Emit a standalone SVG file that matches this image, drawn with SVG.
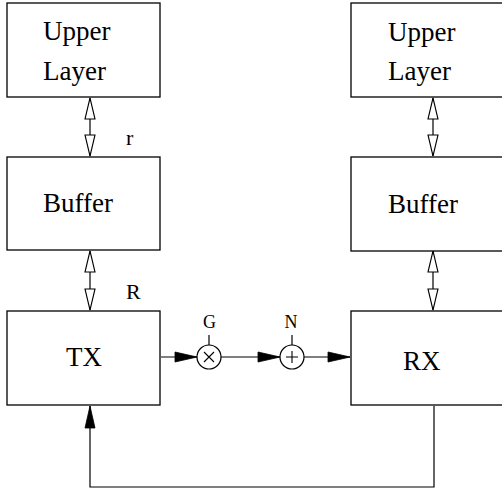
<svg xmlns="http://www.w3.org/2000/svg" width="502" height="489" viewBox="0 0 502 489">
<style>
.box{fill:#fff;stroke:#000;stroke-width:1.3}
text{font-family:'Liberation Serif','Times New Roman','DejaVu Serif',serif;fill:#000}
.big{font-size:27px}
.lbl{font-size:22px}
.sm{font-size:18px}
.ln{fill:none;stroke:#000;stroke-width:1.2}
</style>
<defs>
<marker id="hollow" markerUnits="userSpaceOnUse" viewBox="-23 -7 25 14" markerWidth="25" markerHeight="14" refX="0" refY="0" orient="auto-start-reverse" overflow="visible">
<path d="M0,0 L-21,-5 L-21,5 Z" fill="#fff" stroke="#000" stroke-width="1.1"/>
</marker>
<marker id="solid" markerUnits="userSpaceOnUse" viewBox="-23 -7 25 14" markerWidth="25" markerHeight="14" refX="0" refY="0" orient="auto" overflow="visible">
<path d="M0,0 L-22,-5 L-22,5 Z" fill="#000" stroke="#000" stroke-width="0.8"/>
</marker>
</defs>
<g id="connectors">
<line class="ln" x1="90" y1="98" x2="90" y2="156" marker-start="url(#hollow)" marker-end="url(#hollow)"/>
<line class="ln" x1="90" y1="251" x2="90" y2="310" marker-start="url(#hollow)" marker-end="url(#hollow)"/>
<line class="ln" x1="433" y1="98" x2="433" y2="156" marker-start="url(#hollow)" marker-end="url(#hollow)"/>
<line class="ln" x1="433" y1="251" x2="433" y2="310" marker-start="url(#hollow)" marker-end="url(#hollow)"/>
<line class="ln" x1="161" y1="357" x2="197" y2="357" marker-end="url(#solid)"/>
<line class="ln" x1="221" y1="357" x2="280" y2="357" marker-end="url(#solid)"/>
<line class="ln" x1="304" y1="357" x2="350" y2="357" marker-end="url(#solid)"/>
<line class="ln" x1="209" y1="335" x2="209" y2="345"/>
<line class="ln" x1="292" y1="335" x2="292" y2="345"/>
<polyline class="ln" points="434,406 434,487 90,487 90,406" marker-end="url(#solid)"/>
</g>
<g id="upper-left">
<rect class="box" x="7" y="3" width="153" height="94"/>
<text class="big" x="43" y="40">Upper</text>
<text class="big" x="43" y="80">Layer</text>
</g>
<g id="buffer-left">
<rect class="box" x="7" y="157" width="153" height="93"/>
<text class="big" x="43" y="212">Buffer</text>
</g>
<g id="tx">
<rect class="box" x="7" y="311" width="153" height="94"/>
<text class="big" x="66" y="366">TX</text>
</g>
<g id="upper-right">
<rect class="box" x="351" y="3" width="153" height="94"/>
<text class="big" x="388" y="41">Upper</text>
<text class="big" x="388" y="80">Layer</text>
</g>
<g id="buffer-right">
<rect class="box" x="351" y="157" width="153" height="94"/>
<text class="big" x="388" y="213">Buffer</text>
</g>
<g id="rx">
<rect class="box" x="351" y="311" width="153" height="94"/>
<text class="big" x="403" y="370">RX</text>
</g>
<g id="mult">
<circle cx="209" cy="357" r="12" fill="#fff" stroke="#000" stroke-width="1.2"/>
<path d="M204,352 L214,362 M214,352 L204,362" stroke="#000" stroke-width="1.1"/>
<text class="sm" x="209.5" y="328" text-anchor="middle">G</text>
</g>
<g id="add">
<circle cx="292" cy="357" r="12" fill="#fff" stroke="#000" stroke-width="1.2"/>
<path d="M292,351 L292,363 M286,357 L298,357" stroke="#000" stroke-width="1.1"/>
<text class="sm" x="291" y="328" text-anchor="middle">N</text>
</g>
<text class="lbl" x="126" y="145">r</text>
<text class="lbl" x="126" y="299">R</text>
</svg>
